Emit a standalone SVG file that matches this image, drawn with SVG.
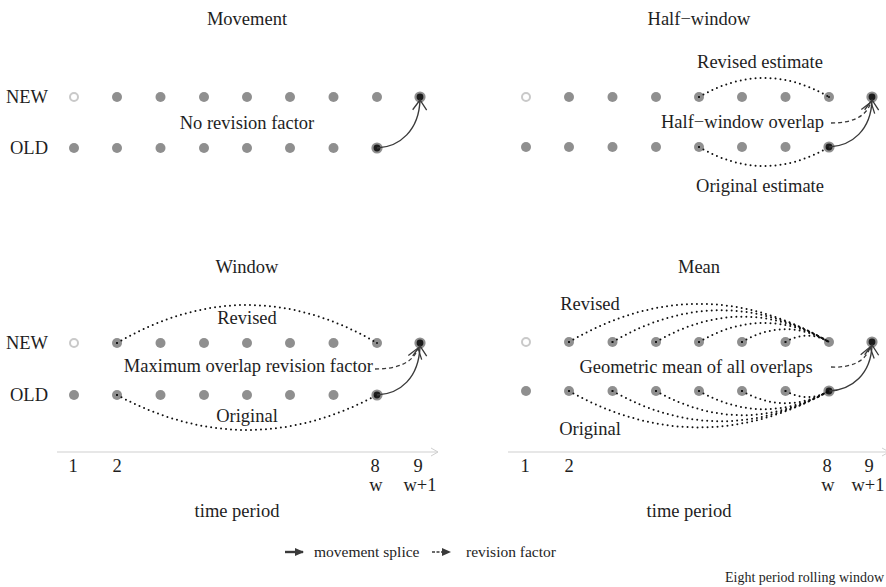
<svg xmlns="http://www.w3.org/2000/svg" xmlns:xlink="http://www.w3.org/1999/xlink" width="886" height="587" viewBox="0 0 886 587">
  <style>
    text { font-family: "Liberation Serif", "Times New Roman", serif; font-size: 18.5px; fill: #1e1e1e; }
    .mid { text-anchor: middle; }
    .end { text-anchor: end; }
    .lg { font-size: 15.5px; }
    .note { font-size: 14px; }
    .splice { fill: none; stroke: #3a3a3a; stroke-width: 1.4; marker-end: url(#vee); }
    .rev { fill: none; stroke: #3a3a3a; stroke-width: 1.3; stroke-dasharray: 4 3; marker-end: url(#vee); }
    .dot { fill: none; stroke: #111; stroke-width: 2; stroke-linecap: round; stroke-dasharray: 0 5; }
    .axis { fill: none; stroke: #cfcfcf; stroke-width: 1; marker-end: url(#axhead); }
  </style>
  <defs>
    <marker id="vee" markerUnits="userSpaceOnUse" markerWidth="14" markerHeight="16" refX="12" refY="8" orient="auto">
      <path d="M2,1 L12,8 L2,15" fill="none" stroke="#3a3a3a" stroke-width="1.3"/>
    </marker>
    <marker id="axhead" markerUnits="userSpaceOnUse" markerWidth="10" markerHeight="10" refX="8" refY="5" orient="auto">
      <path d="M1,1 L8,5 L1,9" fill="none" stroke="#cfcfcf" stroke-width="1"/>
    </marker>
    <marker id="solidhead" markerUnits="userSpaceOnUse" markerWidth="10" markerHeight="10" refX="8" refY="5" orient="auto">
      <path d="M0,1 L9,5 L0,9 Z" fill="#3a3a3a"/>
    </marker>
    <circle id="g" r="5" fill="#8f8f8f"/>
    <circle id="o" r="4" fill="#fff" stroke="#c9c9c9" stroke-width="2"/>
    <g id="k"><circle r="5.6" fill="#8f8f8f"/><circle r="3.4" fill="#1c1c1c"/></g>
    <g id="p"><circle r="5" fill="#8f8f8f"/><circle r="1" fill="#111"/></g>
  </defs>

  <!-- panel titles -->
  <g id="titles">
    <text class="mid" x="247" y="25">Movement</text>
    <text class="mid" x="699" y="25">Half−window</text>
    <text class="mid" x="247" y="273">Window</text>
    <text class="mid" x="699" y="273">Mean</text>
  </g>

  <!-- row labels -->
  <g id="row-labels">
    <text class="end" x="48" y="103">NEW</text>
    <text class="end" x="48" y="154">OLD</text>
    <text class="end" x="48" y="349">NEW</text>
    <text class="end" x="48" y="401">OLD</text>
  </g>

  <!-- Movement panel -->
  <g id="movement">
    <g id="mv-new-1"><use xlink:href="#o" x="74" y="97"/></g>
    <g id="mv-new-2"><use xlink:href="#g" x="117" y="97"/></g>
    <g id="mv-new-3"><use xlink:href="#g" x="160.5" y="97"/></g>
    <g id="mv-new-4"><use xlink:href="#g" x="204" y="97"/></g>
    <g id="mv-new-5"><use xlink:href="#g" x="247" y="97"/></g>
    <g id="mv-new-6"><use xlink:href="#g" x="290" y="97"/></g>
    <g id="mv-new-7"><use xlink:href="#g" x="333.5" y="97"/></g>
    <g id="mv-new-8"><use xlink:href="#g" x="377" y="97"/></g>
    <g id="mv-new-9"><use xlink:href="#k" x="420" y="97"/></g>
    <g id="mv-old-1"><use xlink:href="#g" x="74" y="148"/></g>
    <g id="mv-old-2"><use xlink:href="#g" x="117" y="148"/></g>
    <g id="mv-old-3"><use xlink:href="#g" x="160.5" y="148"/></g>
    <g id="mv-old-4"><use xlink:href="#g" x="204" y="148"/></g>
    <g id="mv-old-5"><use xlink:href="#g" x="247" y="148"/></g>
    <g id="mv-old-6"><use xlink:href="#g" x="290" y="148"/></g>
    <g id="mv-old-7"><use xlink:href="#g" x="333.5" y="148"/></g>
    <g id="mv-old-8"><use xlink:href="#k" x="377" y="148"/></g>
    <text class="mid" x="247" y="129">No revision factor</text>
  </g>

  <!-- Half-window panel -->
  <g id="half-window">
    <g id="hw-new-1"><use xlink:href="#o" x="526" y="97"/></g>
    <g id="hw-new-2"><use xlink:href="#g" x="569" y="97"/></g>
    <g id="hw-new-3"><use xlink:href="#g" x="612.5" y="97"/></g>
    <g id="hw-new-4"><use xlink:href="#g" x="656" y="97"/></g>
    <g id="hw-new-5"><use xlink:href="#p" x="699" y="97"/></g>
    <g id="hw-new-6"><use xlink:href="#g" x="742" y="97"/></g>
    <g id="hw-new-7"><use xlink:href="#g" x="785.5" y="97"/></g>
    <g id="hw-new-8"><use xlink:href="#p" x="829" y="97"/></g>
    <g id="hw-new-9"><use xlink:href="#k" x="872" y="97"/></g>
    <g id="hw-old-1"><use xlink:href="#g" x="526" y="147"/></g>
    <g id="hw-old-2"><use xlink:href="#g" x="569" y="147"/></g>
    <g id="hw-old-3"><use xlink:href="#g" x="612.5" y="147"/></g>
    <g id="hw-old-4"><use xlink:href="#g" x="656" y="147"/></g>
    <g id="hw-old-5"><use xlink:href="#p" x="699" y="147"/></g>
    <g id="hw-old-6"><use xlink:href="#g" x="742" y="147"/></g>
    <g id="hw-old-7"><use xlink:href="#g" x="785.5" y="147"/></g>
    <g id="hw-old-8"><use xlink:href="#k" x="829" y="147"/></g>
    <text class="mid" x="760" y="68">Revised estimate</text>
    <text class="end" x="824" y="128">Half−window overlap</text>
    <text class="mid" x="760" y="192">Original estimate</text>
  </g>

  <!-- Window panel -->
  <g id="window">
    <g id="wn-new-1"><use xlink:href="#o" x="74" y="343"/></g>
    <g id="wn-new-2"><use xlink:href="#p" x="117" y="343"/></g>
    <g id="wn-new-3"><use xlink:href="#g" x="160.5" y="343"/></g>
    <g id="wn-new-4"><use xlink:href="#g" x="204" y="343"/></g>
    <g id="wn-new-5"><use xlink:href="#g" x="247" y="343"/></g>
    <g id="wn-new-6"><use xlink:href="#g" x="290" y="343"/></g>
    <g id="wn-new-7"><use xlink:href="#g" x="333.5" y="343"/></g>
    <g id="wn-new-8"><use xlink:href="#p" x="377" y="343"/></g>
    <g id="wn-new-9"><use xlink:href="#k" x="420" y="343"/></g>
    <g id="wn-old-1"><use xlink:href="#g" x="74" y="395"/></g>
    <g id="wn-old-2"><use xlink:href="#p" x="117" y="395"/></g>
    <g id="wn-old-3"><use xlink:href="#g" x="160.5" y="395"/></g>
    <g id="wn-old-4"><use xlink:href="#g" x="204" y="395"/></g>
    <g id="wn-old-5"><use xlink:href="#g" x="247" y="395"/></g>
    <g id="wn-old-6"><use xlink:href="#g" x="290" y="395"/></g>
    <g id="wn-old-7"><use xlink:href="#g" x="333.5" y="395"/></g>
    <g id="wn-old-8"><use xlink:href="#k" x="377" y="395"/></g>
    <text class="mid" x="247" y="324">Revised</text>
    <text class="end" x="373" y="372">Maximum overlap revision factor</text>
    <text class="mid" x="247" y="422">Original</text>
  </g>

  <!-- Mean panel -->
  <g id="mean">
    <g id="mn-new-1"><use xlink:href="#o" x="526" y="342"/></g>
    <g id="mn-new-2"><use xlink:href="#p" x="569" y="342"/></g>
    <g id="mn-new-3"><use xlink:href="#p" x="612.5" y="342"/></g>
    <g id="mn-new-4"><use xlink:href="#p" x="656" y="342"/></g>
    <g id="mn-new-5"><use xlink:href="#p" x="699" y="342"/></g>
    <g id="mn-new-6"><use xlink:href="#p" x="742" y="342"/></g>
    <g id="mn-new-7"><use xlink:href="#p" x="785.5" y="342"/></g>
    <g id="mn-new-8"><use xlink:href="#g" x="829" y="342"/></g>
    <g id="mn-new-9"><use xlink:href="#k" x="872" y="342"/></g>
    <g id="mn-old-1"><use xlink:href="#g" x="526" y="391"/></g>
    <g id="mn-old-2"><use xlink:href="#p" x="569" y="391"/></g>
    <g id="mn-old-3"><use xlink:href="#p" x="612.5" y="391"/></g>
    <g id="mn-old-4"><use xlink:href="#p" x="656" y="391"/></g>
    <g id="mn-old-5"><use xlink:href="#p" x="699" y="391"/></g>
    <g id="mn-old-6"><use xlink:href="#p" x="742" y="391"/></g>
    <g id="mn-old-7"><use xlink:href="#p" x="785.5" y="391"/></g>
    <g id="mn-old-8"><use xlink:href="#k" x="829" y="391"/></g>
    <text class="mid" x="590" y="310">Revised</text>
    <text class="mid" x="696" y="373">Geometric mean of all overlaps</text>
    <text class="mid" x="590" y="435">Original</text>
  </g>

  <!-- time axes -->
  <g id="axes">
    <line class="axis" x1="57" y1="452" x2="438" y2="452"/>
    <line class="axis" x1="508" y1="452" x2="889" y2="452"/>
    <text class="mid" x="73" y="472">1</text>
    <text class="mid" x="117" y="472">2</text>
    <text class="mid" x="375" y="472">8</text>
    <text class="mid" x="418" y="472">9</text>
    <text class="mid" x="376" y="491">w</text>
    <text class="mid" x="420" y="491">w+1</text>
    <text class="mid" x="237" y="517">time period</text>
    <text class="mid" x="525" y="472">1</text>
    <text class="mid" x="569" y="472">2</text>
    <text class="mid" x="827" y="472">8</text>
    <text class="mid" x="869" y="472">9</text>
    <text class="mid" x="828" y="491">w</text>
    <text class="mid" x="868" y="491">w+1</text>
    <text class="mid" x="689" y="517">time period</text>
  </g>

  <!-- connectors -->
  <g id="connectors">
    <!-- movement splices -->
    <path class="splice" d="M377,148 C400,147 419,130 420,100"/>
    <path class="splice" d="M829,147 C852,146 871,130 872,100"/>
    <path class="splice" d="M377,395 C400,394 419,378 420,346"/>
    <path class="splice" d="M829,391 C852,390 871,374 872,345"/>
    <!-- revision factors -->
    <path class="rev" d="M831,123 C850,123 866,118 871,102"/>
    <path class="rev" d="M375,369 C395,369 413,364 418,348"/>
    <path class="rev" d="M831,367 C850,368 866,362 870,347"/>
    <!-- half-window overlap -->
    <path class="dot" d="M699,97 Q764,59 829,97"/>
    <path class="dot" d="M699,147 Q764,185 829,147"/>
    <!-- full window overlap -->
    <path class="dot" d="M117,343 Q247,267 377,343"/>
    <path class="dot" d="M117,395 Q247,465 377,395"/>
    <!-- all overlaps, revised -->
    <path class="dot" d="M569,342 Q699,265.8 829,342"/>
    <path class="dot" d="M612.5,342 Q720.75,278.6 829,342"/>
    <path class="dot" d="M656,342 Q742.5,291.3 829,342"/>
    <path class="dot" d="M699,342 Q764,303.9 829,342"/>
    <path class="dot" d="M742,342 Q785.5,316.5 829,342"/>
    <path class="dot" d="M785.5,342 Q807.25,329.3 829,342"/>
    <!-- all overlaps, original -->
    <path class="dot" d="M569,391 Q699,463.8 829,391"/>
    <path class="dot" d="M612.5,391 Q720.75,451.6 829,391"/>
    <path class="dot" d="M656,391 Q742.5,439.4 829,391"/>
    <path class="dot" d="M699,391 Q764,427.4 829,391"/>
    <path class="dot" d="M742,391 Q785.5,415.4 829,391"/>
    <path class="dot" d="M785.5,391 Q807.25,403.2 829,391"/>
  </g>

  <!-- legend -->
  <g id="legend">
    <line x1="285" y1="552" x2="303" y2="552" stroke="#3a3a3a" stroke-width="2.4" marker-end="url(#solidhead)"/>
    <text class="lg" x="314" y="557">movement splice</text>
    <line x1="432" y1="552" x2="450" y2="552" stroke="#3a3a3a" stroke-width="1.6" stroke-dasharray="3 1.5" marker-end="url(#solidhead)"/>
    <text class="lg" x="466" y="557">revision factor</text>
    <text class="end note" x="884" y="582">Eight period rolling window</text>
  </g>
</svg>
